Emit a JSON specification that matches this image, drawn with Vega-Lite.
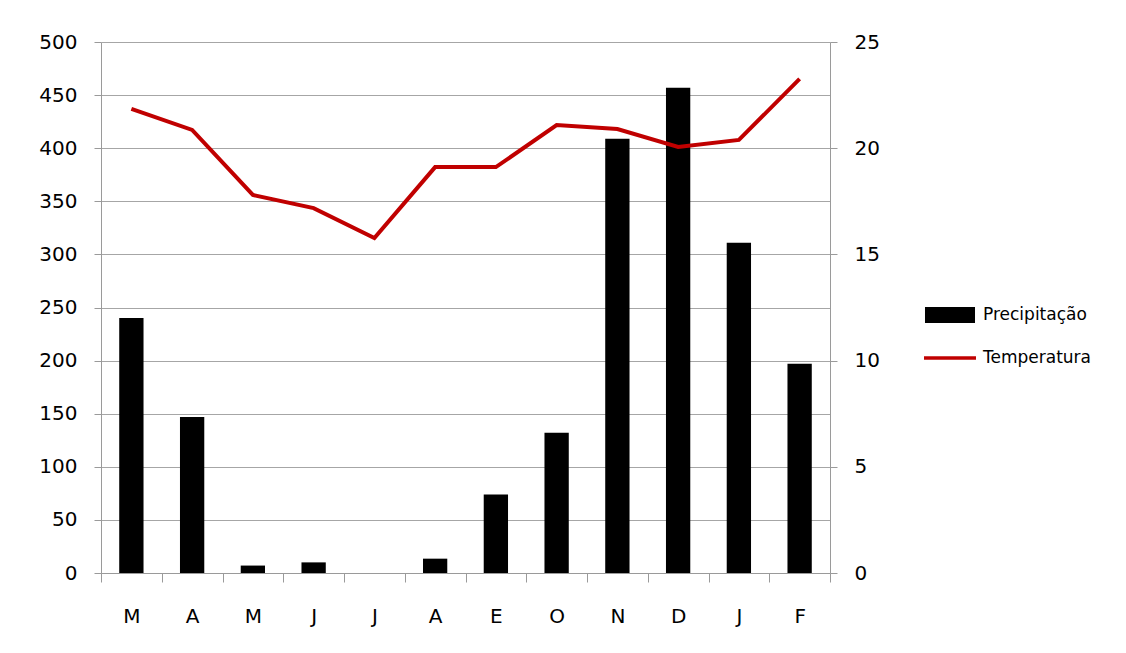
{
  "$schema": "https://vega.github.io/schema/vega-lite/v6.json",
  "width": 729,
  "height": 531,
  "autosize": "none",
  "padding": {"left": 101, "top": 42, "right": 296, "bottom": 80},
  "background": "white",
  "config": {
    "font": "DejaVu Sans",
    "view": {"stroke": null},
    "axis": {
      "labelFont": "DejaVu Sans",
      "labelFontSize": 20,
      "labelColor": "#000000",
      "domainColor": "#9a9a9a",
      "tickColor": "#9a9a9a",
      "gridColor": "#a6a6a6",
      "tickSize": 7,
      "title": null
    }
  },
  "data": {
    "values": [
      {"m": "M1", "precip": 240, "temp": 21.85},
      {"m": "A1", "precip": 147, "temp": 20.86},
      {"m": "M2", "precip": 7, "temp": 17.8},
      {"m": "J1", "precip": 10, "temp": 17.18},
      {"m": "J2", "precip": 0, "temp": 15.77},
      {"m": "A2", "precip": 13.5, "temp": 19.11},
      {"m": "E", "precip": 74, "temp": 19.11},
      {"m": "O", "precip": 132, "temp": 21.09},
      {"m": "N", "precip": 409, "temp": 20.9},
      {"m": "D", "precip": 457, "temp": 20.06},
      {"m": "J3", "precip": 311, "temp": 20.39},
      {"m": "F", "precip": 197, "temp": 23.26}
    ]
  },
  "encoding": {
    "x": {
      "field": "m",
      "type": "nominal",
      "sort": null,
      "scale": {"paddingInner": 0, "paddingOuter": 0},
      "axis": {
        "title": null,
        "labelExpr": "substring(datum.label,0,1)",
        "labelAngle": 0,
        "tickBand": "extent",
        "tickSize": 9,
        "labelPadding": 24
      }
    }
  },
  "layer": [
    {
      "mark": {"type": "bar", "width": {"band": 0.4}},
      "encoding": {
        "y": {
          "field": "precip",
          "type": "quantitative",
          "scale": {"domain": [0, 500]},
          "axis": {
            "values": [0, 50, 100, 150, 200, 250, 300, 350, 400, 450, 500],
            "grid": true,
            "labelPadding": 17
          }
        },
        "color": {
          "datum": "Precipitação",
          "type": "nominal",
          "scale": {"domain": ["Precipitação", "Temperatura"], "range": ["#000000", "#C00000"]},
          "legend": {
            "title": null,
            "orient": "none",
            "legendX": 834,
            "legendY": 258,
            "padding": 0,
            "symbolSize": 900,
            "symbolStrokeWidth": 0,
            "labelOffset": 18,
            "rowPadding": 20,
            "labelFont": "DejaVu Sans",
            "labelFontSize": 17,
            "labelColor": "#000000",
            "encode": {
              "symbols": {
                "update": {
                  "shape": {"signal": "datum.value === 'Precipitação' ? 'M-1.667,-0.533H1.667V0.533H-1.667Z' : 'M-1.733,-0.12H1.733V0.12H-1.733Z'"},
                  "fill": {"signal": "datum.value === 'Precipitação' ? '#000000' : '#C00000'"},
                  "strokeWidth": {"value": 0}
                }
              }
            }
          }
        }
      }
    },
    {
      "mark": {"type": "line", "strokeWidth": 4},
      "encoding": {
        "y": {
          "field": "temp",
          "type": "quantitative",
          "scale": {"domain": [0, 25]},
          "axis": {
            "orient": "right",
            "values": [0, 5, 10, 15, 20, 25],
            "grid": false,
            "labelPadding": 17
          }
        },
        "color": {"datum": "Temperatura", "type": "nominal"}
      }
    }
  ],
  "resolve": {"scale": {"y": "independent"}}
}
